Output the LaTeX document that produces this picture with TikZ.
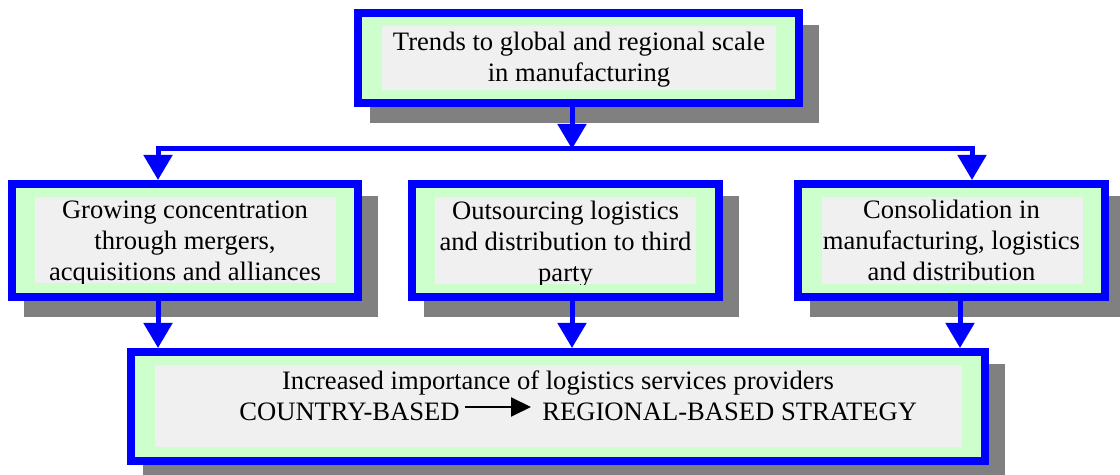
\documentclass[tikz,border=0pt]{standalone}
\usepackage{fontspec}
\setmainfont{Liberation Serif}
\usetikzlibrary{arrows.meta}

\definecolor{frameblue}{RGB}{0,0,255}
\definecolor{mint}{RGB}{204,255,204}
\definecolor{paper}{RGB}{240,240,240}
\definecolor{shadowgray}{RGB}{128,128,128}

\begin{document}
\begin{tikzpicture}[x=0.5pt, y=-0.5pt]
\tikzstyle{panel} = [rectangle, draw=frameblue, fill=mint, line width=4pt, inner sep=0pt,
  preaction={draw=shadowgray, fill=shadowgray, transform canvas={shift={(16,16)}}}]
\tikzstyle{pane} = [rectangle, fill=paper, inner sep=0pt]
\tikzstyle{boxtext} = [inner sep=0pt, align=center, anchor=base, font=\fontsize{13.3pt}{15.5pt}\selectfont]
\tikzstyle{flow} = [draw=frameblue, line width=2.5pt, -{Triangle[length=12.5pt, width=14pt]}]
\tikzstyle{pointer} = [draw=black, line width=1pt, -{Triangle[length=10pt, width=9.5pt]}]
\useasboundingbox (0,0) rectangle (1120,475);

% top box (text placed by its last baseline)
\node[panel, minimum width=220.5pt, minimum height=45pt] (trends) at (578.5,58) {};
\node[pane, minimum width=197pt, minimum height=32pt] (trendspane) at (579,58) {};
\node[boxtext] (trendstext) at (579,82) {Trends to global and regional scale\\in manufacturing};

% middle row
\node[panel, minimum width=173pt, minimum height=56.5pt] (growth) at (185,240.5) {};
\node[pane, minimum width=150.5pt, minimum height=43pt] (growthpane) at (185.5,240) {};
\begin{scope}
\clip (growthpane.south west) rectangle (growthpane.north east);
\node[boxtext] (growthtext) at (185,281) {Growing concentration\\through mergers,\\acquisitions and alliances};
\end{scope}

\node[panel, minimum width=153.5pt, minimum height=56.5pt] (outsource) at (565.5,240.5) {};
\node[pane, minimum width=130.5pt, minimum height=43.5pt] (outsourcepane) at (565.5,240.5) {};
\begin{scope}
\clip (outsourcepane.south west) rectangle (outsourcepane.north east);
\node[boxtext] (outsourcetext) at (565.5,282) {Outsourcing logistics\\and distribution to third\\party};
\end{scope}

\node[panel, minimum width=153.5pt, minimum height=56.5pt] (consol) at (951.5,240.5) {};
\node[pane, minimum width=130.5pt, minimum height=43.5pt] (consolpane) at (952.5,240.5) {};
\node[boxtext] (consoltext) at (951.5,281) {Consolidation in\\manufacturing, logistics\\and distribution};

% bottom box
\node[panel, minimum width=427pt, minimum height=54.5pt] (impact) at (558,406.5) {};
\node[pane, minimum width=403.5pt, minimum height=41pt] (impactpane) at (558.5,406) {};
\node[boxtext] (impacttext) at (558,390) {Increased importance of logistics services providers};
\node[boxtext, anchor=base east] (cbased) at (460,421) {COUNTRY-BASED};
\node[boxtext, anchor=base west] (rbased) at (542,421) {REGIONAL-BASED STRATEGY};
\draw [pointer] ([shift={(5,-14)}]cbased.base east) -- ([shift={(-11,-14)}]rbased.base west);

% connectors
\coordinate (hub) at (572,149);
\coordinate (lft) at (158,0);
\coordinate (rgt) at (972,0);
\coordinate (rgtlow) at (960,0);
\draw [flow] (trends.south -| hub) -- (hub);
\draw [flow] (hub) -| (growth.north -| lft);
\draw [flow] (hub) -| (consol.north -| rgt);
\draw [flow] (growth.south -| lft) -- (impact.north -| lft);
\draw [flow] (outsource.south -| hub) -- (impact.north -| hub);
\draw [flow] (consol.south -| rgtlow) -- (impact.north -| rgtlow);
\end{tikzpicture}
\end{document}
